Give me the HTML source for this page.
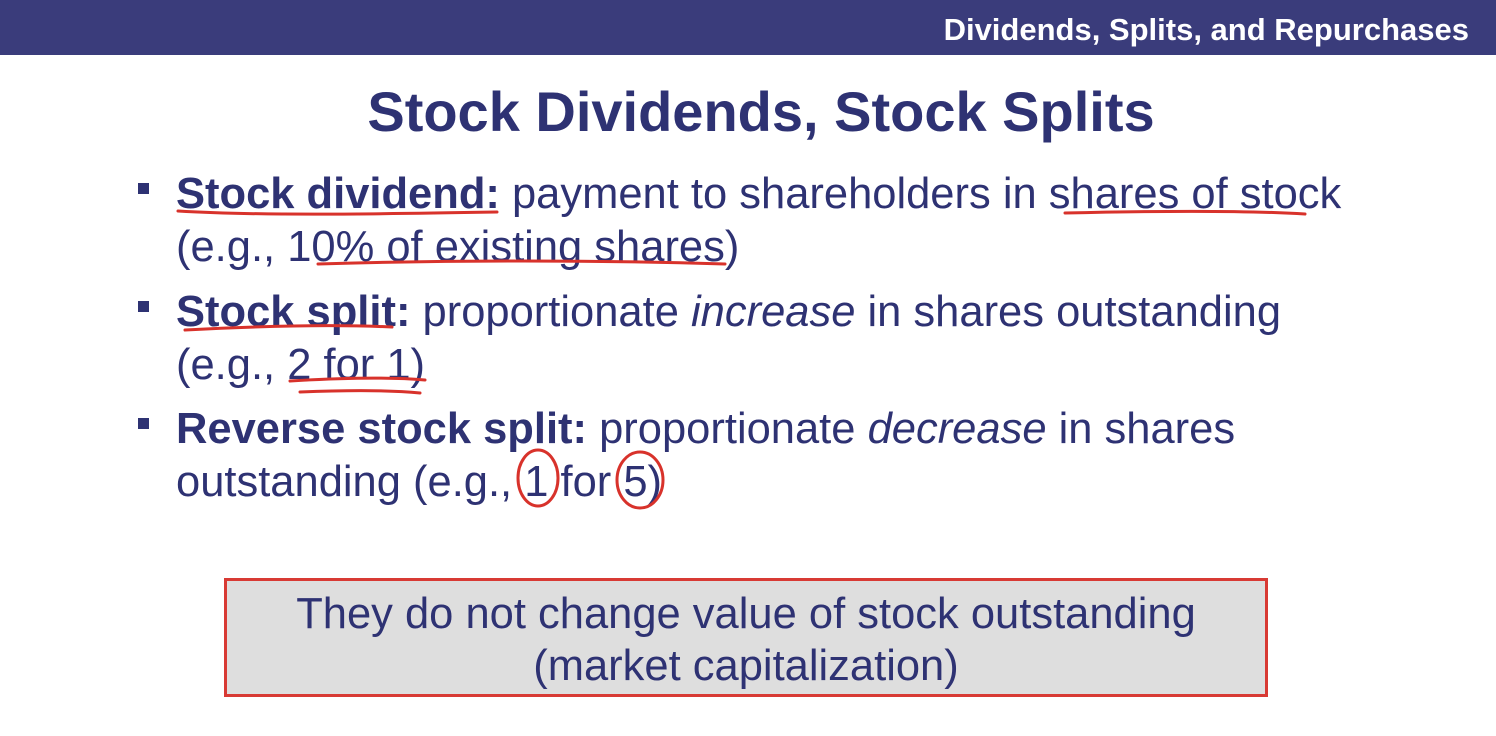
<!DOCTYPE html>
<html><head><meta charset="utf-8"><style>
html,body{margin:0;padding:0;width:1496px;height:736px;overflow:hidden;background:#fff;font-family:"Liberation Sans",Arial,sans-serif;}
.abs{position:absolute;white-space:nowrap;line-height:1;}
#hdr{position:absolute;left:0;top:0;width:1496px;height:55px;background:#3a3c7b;}
#hdr-t{right:27px;top:14px;font-size:31px;font-weight:bold;color:#fff;}
#title{left:0;width:1522px;text-align:center;top:84px;font-size:56px;font-weight:bold;color:#2e3273;}
.ln{left:176px;font-size:43.5px;color:#2e3273;}
.bul{position:absolute;left:138px;width:11px;height:11px;background:#2e3273;}
#box{position:absolute;left:224px;top:578px;width:1038px;height:113px;border:3px solid #d83a34;background:#dedede;}
.bt{left:224px;width:1044px;text-align:center;font-size:43.5px;color:#2e3273;}
</style></head><body>
<div id="hdr"></div>
<div id="hdr-t" class="abs">Dividends, Splits, and Repurchases</div>
<div id="title" class="abs">Stock Dividends, Stock Splits</div>

<div class="bul" style="top:183px"></div>
<div class="abs ln" style="top:173px"><b>Stock dividend:</b> payment to shareholders in shares of stock</div>
<div class="abs ln" style="top:226px">(e.g., 10% of existing shares)</div>

<div class="bul" style="top:301px"></div>
<div class="abs ln" style="top:291px"><b>Stock split:</b> proportionate <i>increase</i> in shares outstanding</div>
<div class="abs ln" style="top:344px">(e.g., 2 for 1)</div>

<div class="bul" style="top:418px"></div>
<div class="abs ln" style="top:408px"><b>Reverse stock split:</b> proportionate <i>decrease</i> in shares</div>
<div class="abs ln" style="top:461px">outstanding (e.g., 1 for 5)</div>

<div id="box"></div>
<div class="abs bt" style="top:593px">They do not change value of stock outstanding</div>
<div class="abs bt" style="top:645px">(market capitalization)</div>

<svg width="1496" height="736" style="position:absolute;left:0;top:0;pointer-events:none">
<g fill="none" stroke="#d8322b" stroke-width="3" stroke-linecap="round">
<path d="M178 211 C260 216 380 214 497 212"/>
<path d="M1065 213 C1150 211 1240 210 1305 214"/>
<path d="M318 264 C420 261 560 259 725 264"/>
<path d="M185 330 C260 326 330 324 392 327"/>
<path d="M290 381 C340 378 390 377 425 380"/>
<path d="M300 392 C350 390 390 390 420 393"/>
<ellipse cx="538" cy="478" rx="20" ry="28"/>
<ellipse cx="640" cy="480" rx="23" ry="28"/>
</g></svg>
</body></html>
